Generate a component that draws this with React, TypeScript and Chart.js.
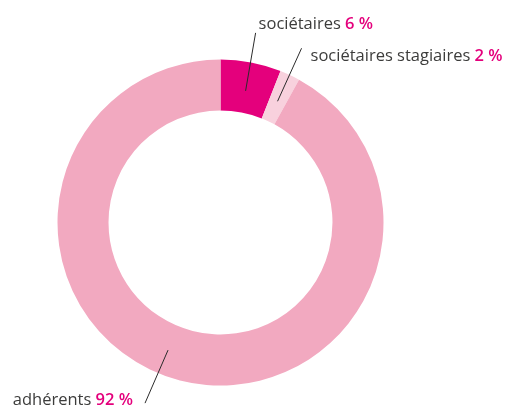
import React, { useEffect, useRef } from "react";
import { Chart, registerables } from "chart.js";

Chart.register(...registerables);

const categories = ["sociétaires", "sociétaires stagiaires", "adhérents"];
const values = [6, 2, 92];
const valueLabels = ["6 %", "2 %", "92 %"];
const colors = ["#E4007C", "#F8D1DD", "#F2A9C0"];

const FONT_FAMILY = "'Open Sans', sans-serif";
const FONT_SIZE = 16.5;

// leader-line geometry (annotation styling, not data)
const leaderCfg = [
  { frac: 0.5, r: 134, dx: 10, dy: -58, tx: 3, ty: -4, align: "left" },
  { frac: 0.5, r: 134, dx: 24, dy: -53, tx: 9, ty: 12.5, align: "left" },
  { frac: 0.524, r: 138, dx: -23, dy: 53, tx: -12, ty: 2, align: "right" },
];

const leaderPlugin = {
  id: "leaderLabels",
  afterDatasetsDraw(chart: any) {
    const ctx = chart.ctx as CanvasRenderingContext2D;
    const meta = chart.getDatasetMeta(0);
    ctx.save();
    meta.data.forEach((arc: any, i: number) => {
      const c = leaderCfg[i];
      const { x, y, startAngle, endAngle } = arc.getProps(["x", "y", "startAngle", "endAngle"], true);
      const a = startAngle + (endAngle - startAngle) * c.frac;
      const x0 = x + c.r * Math.cos(a);
      const y0 = y + c.r * Math.sin(a);
      const x1 = x0 + c.dx;
      const y1 = y0 + c.dy;
      ctx.strokeStyle = "#2b2b2b";
      ctx.lineWidth = 1;
      ctx.beginPath();
      ctx.moveTo(x0, y0);
      ctx.lineTo(x1, y1);
      ctx.stroke();

      const name = categories[i] + " ";
      const val = valueLabels[i];
      ctx.textBaseline = "alphabetic";
      ctx.textAlign = "left";
      ctx.font = `400 ${FONT_SIZE}px ${FONT_FAMILY}`;
      const wName = ctx.measureText(name).width;
      ctx.font = `600 ${FONT_SIZE}px ${FONT_FAMILY}`;
      const wVal = ctx.measureText(val).width;
      let tx = x1 + c.tx;
      if (c.align === "right") tx = tx - wName - wVal;
      const ty = y1 + c.ty;
      ctx.font = `400 ${FONT_SIZE}px ${FONT_FAMILY}`;
      ctx.fillStyle = "#3c3c3b";
      ctx.fillText(name, tx, ty);
      ctx.font = `600 ${FONT_SIZE}px ${FONT_FAMILY}`;
      ctx.fillStyle = "#E4007C";
      ctx.fillText(val, tx + wName, ty);
    });
    ctx.restore();
  },
};

export default function App() {
  const ref = useRef<HTMLCanvasElement | null>(null);
  useEffect(() => {
    if (!ref.current) return;
    const chart = new Chart(ref.current, {
      type: "doughnut",
      data: {
        labels: categories,
        datasets: [
          {
            data: values,
            backgroundColor: colors,
            borderWidth: 0,
            hoverOffset: 0,
          },
        ],
      },
      options: {
        responsive: false,
        animation: false,
        cutout: "68.7%",
        layout: { padding: { left: 57.5, right: 122.5, top: 59.5, bottom: 22.5 } },
        plugins: {
          legend: { display: false },
          tooltip: { enabled: false },
        },
      },
      plugins: [leaderPlugin],
    });
    return () => chart.destroy();
  }, []);
  return (
    <div style={{ position: "absolute", left: 0, top: 0, width: 506, height: 408, background: "#fff" }}>
      <canvas ref={ref} width={506} height={408} />
    </div>
  );
}
